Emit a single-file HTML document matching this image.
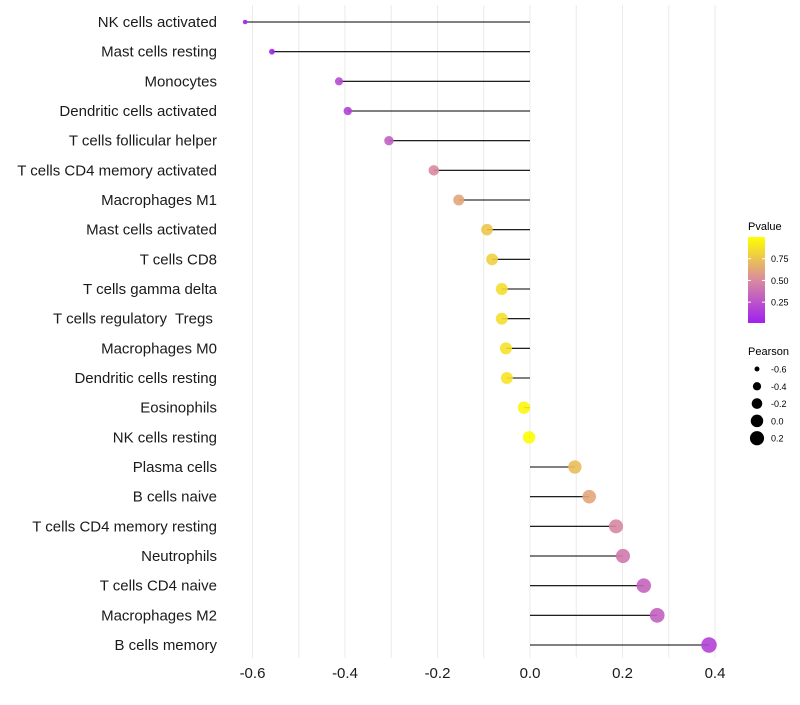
<!DOCTYPE html>
<html><head><meta charset="utf-8"><style>
body{margin:0;background:#fff;font-family:"Liberation Sans",sans-serif;}
text{white-space:pre;}
</style></head><body>
<svg id="chart" width="800" height="700" xmlns="http://www.w3.org/2000/svg"></svg>
<script>
const categories=["NK cells activated","Mast cells resting","Monocytes","Dendritic cells activated","T cells follicular helper","T cells CD4 memory activated","Macrophages M1","Mast cells activated","T cells CD8","T cells gamma delta","T cells regulatory  Tregs ","Macrophages M0","Dendritic cells resting","Eosinophils","NK cells resting","Plasma cells","B cells naive","T cells CD4 memory resting","Neutrophils","T cells CD4 naive","Macrophages M2","B cells memory"];
const pearson=[-0.616,-0.558,-0.413,-0.394,-0.305,-0.208,-0.154,-0.093,-0.082,-0.061,-0.061,-0.052,-0.05,-0.013,-0.002,0.097,0.128,0.186,0.201,0.246,0.275,0.387];
const pvalue=[0.01,0.02,0.2,0.15,0.3,0.5,0.62,0.76,0.8,0.86,0.86,0.87,0.88,0.96,0.99,0.72,0.62,0.48,0.42,0.32,0.3,0.16];
const xTicks=[-0.6,-0.4,-0.2,0.0,0.2,0.4];
const legendP=[0.25,0.50,0.75];
const legendS=[-0.6,-0.4,-0.2,0.0,0.2];
const svg=document.getElementById('chart');
const NS="http://www.w3.org/2000/svg";
function mk(t,a,name,txt){const e=document.createElementNS(NS,t);for(const k in a)e.setAttribute(k,a[k]);


if(txt!==undefined)e.textContent=txt;svg.appendChild(e);return e;}
const x=v=>530+v*462.5;
const y=i=>22+i*29.667;
const r=v=>Math.sqrt(5+Math.max(0,v+0.62)*55);
function lerp(a,b,t){return a.map((c,i)=>Math.round(c+(b[i]-c)*t));}
function col(p){const s0=[160,32,240],s1=[217,138,160],s2=[255,255,0];
const c=p<0.5?lerp(s0,s1,p/0.5):lerp(s1,s2,(p-0.5)/0.5);return `rgb(${c.join(',')})`;}
for(let v=-0.6;v<=0.41;v+=0.1){mk('line',{x1:x(v),x2:x(v),y1:5,y2:658,stroke:'#ebebeb','stroke-width':1},'gridline');}
categories.forEach((c,i)=>{
mk('text',{x:217,y:y(i)+5,'text-anchor':'end','font-size':15,fill:'#1a1a1a'},'y-label',c);
mk('line',{x1:x(0),x2:x(pearson[i]),y1:y(i),y2:y(i),stroke:'#000','stroke-width':1.1},'stem');
mk('circle',{cx:x(pearson[i]),cy:y(i),r:r(pearson[i]),fill:col(pvalue[i]),'fill-opacity':0.9},'point');
});
xTicks.forEach(v=>mk('text',{x:x(v),y:678,'text-anchor':'middle','font-size':15,fill:'#1a1a1a'},'x-tick-label',v.toFixed(1)));
mk('text',{x:748,y:230,'font-size':11,fill:'#000'},'legend-title-pvalue','Pvalue');
const defs=document.createElementNS(NS,'defs');defs.innerHTML='<linearGradient id="g" x1="0" y1="1" x2="0" y2="0"><stop offset="0" stop-color="#a020f0"/><stop offset="0.5" stop-color="#d98aa0"/><stop offset="1" stop-color="#ffff00"/></linearGradient>';svg.appendChild(defs);
mk('rect',{x:748,y:237,width:17,height:86,fill:'url(#g)'},'colorbar');
legendP.forEach(p=>{const yy=323-(p-0.01)/0.99*86;
mk('line',{x1:748,x2:751,y1:yy,y2:yy,stroke:'#fff'},'colorbar-tick');
mk('line',{x1:762,x2:765,y1:yy,y2:yy,stroke:'#fff'},'colorbar-tick');
mk('text',{x:771,y:yy+3.5,'font-size':9,fill:'#000'},'colorbar-label',p.toFixed(2));});
mk('text',{x:748,y:355,'font-size':11,fill:'#000'},'legend-title-pearson','Pearson');
legendS.forEach((s,i)=>{const yy=369+i*17.3;
mk('circle',{cx:757,cy:yy,r:r(s),fill:'#000'},'size-legend-dot');
mk('text',{x:771,y:yy+3.5,'font-size':9,fill:'#000'},'size-legend-label',s.toFixed(1));});
</script>
</body></html>
